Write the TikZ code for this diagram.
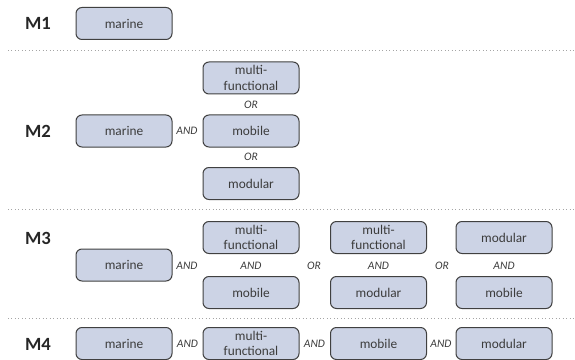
\documentclass[tikz,border=0pt]{standalone}
\usepackage{fontspec}
\setmainfont{Carlito}

\definecolor{boxfill}{RGB}{204,211,229}
\definecolor{boxline}{RGB}{64,64,64}
\definecolor{boxtext}{RGB}{60,60,60}
\definecolor{sepline}{RGB}{165,165,165}

\tikzset{
  feat/.style={draw=boxline,fill=boxfill,line width=0.75pt,rounded corners=4.5pt,
    minimum width=72pt,minimum height=24pt,inner sep=1pt,align=center,
    text=boxtext,font=\fontsize{10}{11.6}\selectfont},
  opword/.style={inner sep=1pt,text=boxtext,font=\fontsize{8.6}{9}\selectfont\itshape},
  level/.style={text=black!85,font=\fontsize{14}{16}\selectfont\bfseries},
}

\begin{document}
\begin{tikzpicture}[x=0.75pt,y=-0.75pt]
\useasboundingbox (0,0) rectangle (575,360);

% Separators
\foreach \y in {50,209,318} {
  \draw[sepline,line width=0.6pt,dotted] (8,\y) -- (575,\y);
}

% Level labels
\node[level] (l1) at (38,23.5) {M1};
\node[level] (l2) at (38,131) {M2};
\node[level] (l3) at (38,238) {M3};
\node[level] (l4) at (38,344) {M4};

% M1
\node[feat] (a-mar) at (124,23.5) {marine};

% M2
\node[feat] (b-mar) at (124,131) {marine};
\node[opword] (b-and) at (187,131) {AND};
\node[feat] (b-mul) at (251,78) {multi-\\functional};
\node[opword] (b-or1) at (251,104.5) {OR};
\node[feat] (b-mob) at (251,131) {mobile};
\node[opword] (b-or2) at (251,157) {OR};
\node[feat] (b-mod) at (251,183.5) {modular};

% M3
\node[feat] (c-mar) at (124,265) {marine};
\node[opword] (c-and) at (187,266) {AND};
\node[feat] (c-mul1) at (251,237.5) {multi-\\functional};
\node[opword] (c-and1) at (251,266) {AND};
\node[feat] (c-mob1) at (251,292.5) {mobile};
\node[opword] (c-or1) at (314,266) {OR};
\node[feat] (c-mul2) at (378.5,237.5) {multi-\\functional};
\node[opword] (c-and2) at (378.5,266) {AND};
\node[feat] (c-mod2) at (378.5,292.5) {modular};
\node[opword] (c-or2) at (442,266) {OR};
\node[feat] (c-mod3) at (504,237.5) {modular};
\node[opword] (c-and3) at (504,266) {AND};
\node[feat] (c-mob3) at (504,292.5) {mobile};

% M4
\node[feat] (d-mar) at (124,343.5) {marine};
\node[opword] (d-and1) at (187.5,343.5) {AND};
\node[feat] (d-mul) at (251,343.5) {multi-\\functional};
\node[opword] (d-and2) at (314.5,343.5) {AND};
\node[feat] (d-mob) at (378.5,343.5) {mobile};
\node[opword] (d-and3) at (441,343.5) {AND};
\node[feat] (d-mod) at (504,343.5) {modular};
\end{tikzpicture}
\end{document}
